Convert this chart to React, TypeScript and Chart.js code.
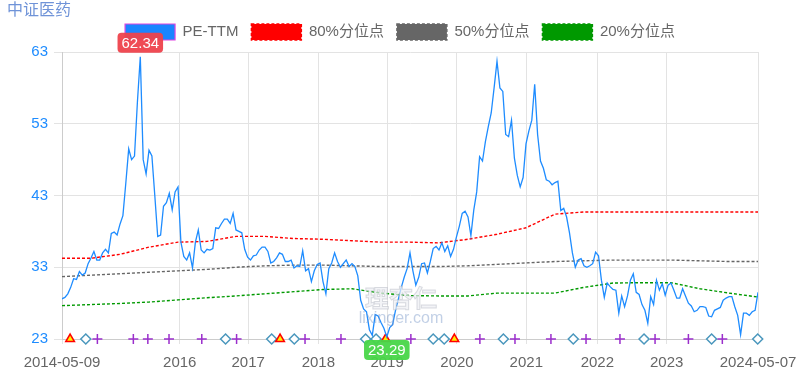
import React, { useEffect, useRef } from 'react';
import { Chart, registerables } from 'chart.js';

Chart.register(...registerables);

const chartTitle = '中证医药';
const seriesNames = ['PE-TTM', '80%分位点', '50%分位点', '20%分位点'];

// PE-TTM, semi-monthly samples from 2014-05-09 to 2024-05-07
const peValues = [
  28.6, 28.8, 29.3, 30.2, 31.4, 31.3, 32.4, 31.9, 32.2, 33.5,
  34.3, 35.2, 34.0, 34.0, 35.0, 35.5, 35.0, 37.7, 37.9, 37.5,
  39.0, 40.2, 44.7, 49.5, 48.0, 48.5, 56.0, 62.34, 48.0, 46.0,
  49.3, 48.5, 43.0, 37.3, 37.5, 41.5, 42.0, 43.3, 41.0, 43.5,
  44.2, 36.5, 34.5, 34.0, 35.0, 32.9, 36.5, 38.2,
  35.4, 35.0, 35.5, 35.4, 35.6, 38.5, 38.4, 39.1, 39.7, 39.7,
  39.1, 40.5, 38.2, 38.0, 37.8, 35.5, 34.4, 34.0, 34.6, 34.7,
  35.4, 35.8, 35.8, 35.2, 33.6, 33.8, 34.3, 35.0, 34.8, 33.8,
  33.8, 34.0, 32.9, 33.2, 33.1, 35.3, 32.5, 32.8, 31.0, 32.5,
  33.4, 33.6, 31.0, 29.3, 32.8, 33.6, 35.0,
  33.8, 33.0, 33.5, 34.0, 33.1, 33.5, 33.1, 31.8, 28.4, 27.2,
  26.8, 24.3, 23.5, 26.4, 26.2, 25.3, 24.5, 23.29, 24.6, 25.0,
  27.0, 28.6, 30.2, 31.6, 32.8, 35.0, 32.5, 30.5, 31.6, 33.5,
  33.6, 32.2, 33.8, 35.6, 35.9, 35.4, 36.4, 35.2, 36.0, 34.5,
  35.5, 37.2, 38.7, 40.5, 40.8, 40.0, 37.4,
  41.0, 43.5, 48.4, 47.8, 50.5, 52.6, 54.5, 58.0, 61.7, 58.0,
  57.5, 51.5, 51.2, 53.5, 48.2, 45.8, 44.2, 45.5, 50.2, 52.0,
  53.5, 58.5, 51.5, 47.8, 46.8, 45.2, 45.0, 44.5, 44.8, 45.0,
  40.9, 41.2, 40.0, 37.8, 35.0, 33.0, 34.0, 34.2, 33.2, 33.0,
  33.2, 33.5, 35.1, 34.6, 31.2, 28.8, 30.8,
  30.3, 29.9, 29.8, 26.6, 29.0, 27.5, 29.0, 31.2, 32.1, 29.5,
  29.2, 27.8, 27.0, 25.2, 28.9, 27.8, 31.2, 29.8, 30.7, 29.1,
  30.5, 30.8, 29.8, 28.7, 28.7, 30.0, 29.0, 28.0, 27.6, 26.8,
  27.0, 27.5, 27.5, 27.4, 26.2, 26.1, 27.0, 27.2, 27.4, 28.4,
  28.7, 28.9, 28.9, 27.5, 26.3, 23.6, 26.6, 26.6, 26.3, 26.8,
  27.0, 29.5,
];

// percentile lines, one value every 10 samples
const percentileStep = 10;
const p80Values = [34.25, 34.25, 34.8, 35.8, 36.5, 36.6, 37.3, 37.3, 37.0, 36.9, 36.7, 36.5, 36.5, 36.4, 36.9, 37.6, 38.5, 40.4, 40.7, 40.7, 40.7, 40.7, 40.7, 40.7, 40.7];
const p50Values = [31.7, 31.9, 32.1, 32.3, 32.5, 32.7, 33.0, 33.2, 33.3, 33.3, 33.2, 33.1, 33.1, 33.1, 33.2, 33.4, 33.6, 33.8, 33.9, 34.0, 34.0, 34.0, 33.9, 33.8, 33.8];
const p20Values = [27.65, 27.8, 27.95, 28.15, 28.45, 28.75, 29.0, 29.3, 29.6, 29.9, 30.0, 29.4, 29.05, 29.0, 29.0, 29.4, 29.4, 29.4, 30.2, 30.8, 30.85, 30.85, 30.0, 29.4, 28.85];

// x-axis ticks (sample index of the date) and labels
const tickIndex = [0, 40.6, 64.2, 88.4, 112.1, 136.2, 160.1, 184.6, 208.5, 240];
const tickLabels = ['2014-05-09', '2016', '2017', '2018', '2019', '2020', '2021', '2022', '2023', '2024-05-07'];

// event markers (sample index)
const triangleIdx = [2.8, 75.2, 111.6, 135.3];
const diamondIdx = [8.2, 56.4, 72.3, 80.1, 104.7, 108.3, 128.0, 131.8, 152.2, 176.3, 200.7, 224.0, 239.9];
const plusIdx = [12.2, 24.6, 29.6, 36.9, 48.2, 60.2, 83.8, 96.2, 120.3, 144.1, 156.2, 168.6, 180.7, 192.4, 204.5, 216.0, 227.7];

const yMin = 23;
const yMax = 63;
const yStep = 10;

const FONT = "'Liberation Sans', Arial, 'Noto Sans CJK SC', sans-serif";

function roundRect(ctx: CanvasRenderingContext2D, x: number, y: number, w: number, h: number, r: number) {
  ctx.beginPath();
  ctx.moveTo(x + r, y);
  ctx.lineTo(x + w - r, y);
  ctx.quadraticCurveTo(x + w, y, x + w, y + r);
  ctx.lineTo(x + w, y + h - r);
  ctx.quadraticCurveTo(x + w, y + h, x + w - r, y + h);
  ctx.lineTo(x + r, y + h);
  ctx.quadraticCurveTo(x, y + h, x, y + h - r);
  ctx.lineTo(x, y + r);
  ctx.quadraticCurveTo(x, y, x + r, y);
  ctx.closePath();
}

const extremesPlugin = {
  id: 'extremes',
  afterDatasetsDraw(chart: any) {
    const ctx: CanvasRenderingContext2D = chart.ctx;
    const meta = chart.getDatasetMeta(0);
    let maxI = 0;
    let minI = 0;
    peValues.forEach((v, i) => {
      if (v > peValues[maxI]) maxI = i;
      if (v < peValues[minI]) minI = i;
    });
    const draw = (i: number, above: boolean, color: string) => {
      const p = meta.data[i];
      const text = peValues[i].toFixed(2);
      ctx.save();
      ctx.font = `15px ${FONT}`;
      const w = ctx.measureText(text).width + 8;
      const h = 20;
      const x = p.x - w / 2;
      const y = above ? p.y - 4 - h : p.y + 3;
      ctx.fillStyle = color;
      roundRect(ctx, x, y, w, h, 4);
      ctx.fill();
      ctx.fillStyle = '#ffffff';
      ctx.textAlign = 'center';
      ctx.textBaseline = 'middle';
      ctx.fillText(text, p.x, y + h / 2 + 1);
      ctx.restore();
    };
    draw(maxI, true, 'rgba(238,66,76,0.95)');
    draw(minI, false, 'rgba(72,214,72,0.95)');
  },
};

const decorPlugin = {
  id: 'decor',
  beforeLayout(chart: any) {
    const lg: any = chart.legend;
    if (lg && !lg._padPatched) {
      const f = lg.fit.bind(lg);
      lg.fit = function () {
        f();
        this.height += 2;
      };
      lg._padPatched = true;
    }
  },
  afterDatasetsDraw(chart: any) {
    const ctx: CanvasRenderingContext2D = chart.ctx;
    ctx.save();
    ctx.textAlign = 'center';
    ctx.textBaseline = 'middle';
    ctx.font = `bold 24px 'Noto Sans CJK SC', sans-serif`;
    ctx.fillStyle = 'rgba(238,240,244,0.7)';
    ctx.strokeStyle = 'rgba(175,180,190,0.45)';
    ctx.lineWidth = 1;
    ctx.fillText('理杏仁', 401, 298);
    ctx.strokeText('理杏仁', 401, 298);
    ctx.font = `16px ${FONT}`;
    ctx.fillStyle = 'rgba(120,150,200,0.45)';
    ctx.fillText('lixinger.com', 401, 319);
    ctx.restore();
  },
  afterDraw(chart: any) {
    const ctx: CanvasRenderingContext2D = chart.ctx;
    ctx.save();
    ctx.font = `16px ${FONT}`;
    ctx.fillStyle = '#6f93d8';
    ctx.textAlign = 'left';
    ctx.textBaseline = 'middle';
    ctx.fillText(chartTitle, 7, 11);
    ctx.restore();
  },
};

export default function App() {
  const canvasRef = useRef<HTMLCanvasElement | null>(null);

  useEffect(() => {
    document.body.style.margin = '0';
    const canvas = canvasRef.current;
    if (!canvas) return;
    const pct = (vals: number[]) => vals.map((v, k) => ({ x: k * percentileStep, y: v }));
    const markers = (idx: number[]) => idx.map((x) => ({ x, y: yMin }));

    const chart = new Chart(canvas, {
      type: 'line',
      data: {
        datasets: [
          {
            label: seriesNames[0],
            data: peValues.map((v, i) => ({ x: i, y: v })),
            borderColor: '#1e8cff',
            backgroundColor: '#1a85ff',
            borderWidth: 1.3,
            pointRadius: 0,
            tension: 0,
          },
          {
            label: seriesNames[1],
            data: pct(p80Values),
            borderColor: '#ff0000',
            backgroundColor: '#ff0000',
            borderWidth: 1.4,
            borderDash: [3, 2],
            pointRadius: 0,
          },
          {
            label: seriesNames[2],
            data: pct(p50Values),
            borderColor: '#666666',
            backgroundColor: '#666666',
            borderWidth: 1.4,
            borderDash: [3, 2],
            pointRadius: 0,
          },
          {
            label: seriesNames[3],
            data: pct(p20Values),
            borderColor: '#009900',
            backgroundColor: '#009900',
            borderWidth: 1.4,
            borderDash: [3, 2],
            pointRadius: 0,
          },
          {
            label: 'triangle',
            data: markers(triangleIdx),
            showLine: false,
            pointStyle: 'triangle',
            pointRadius: 5,
            backgroundColor: '#ffee00',
            borderColor: '#ff0000',
            borderWidth: 1.5,
            clip: false as any,
          },
          {
            label: 'diamond',
            data: markers(diamondIdx),
            showLine: false,
            pointStyle: 'rectRot',
            pointRadius: 5,
            backgroundColor: '#ffffff',
            borderColor: '#4a97bd',
            borderWidth: 1.5,
            clip: false as any,
          },
          {
            label: 'plus',
            data: markers(plusIdx),
            showLine: false,
            pointStyle: 'cross',
            pointRadius: 5,
            backgroundColor: '#9b2fcc',
            borderColor: '#9b2fcc',
            borderWidth: 1.5,
            clip: false as any,
          },
        ],
      },
      options: {
        responsive: false,
        animation: false,
        devicePixelRatio: 1,
        layout: { padding: { top: 11, left: 0, right: 0, bottom: 0 } },
        plugins: {
          title: { display: false },
          tooltip: { enabled: false },
          legend: {
            display: true,
            position: 'top',
            labels: {
              boxWidth: 50,
              boxHeight: 16,
              padding: 13,
              color: '#666666',
              font: { size: 15, family: FONT },
              filter: (item: any) => item.datasetIndex < 4,
              generateLabels(chart: any) {
                const items = (Chart.defaults.plugins.legend.labels as any).generateLabels(chart);
                return items.map((it: any) => {
                  if (it.datasetIndex === 0) {
                    it.fillStyle = '#1a85ff';
                    it.strokeStyle = '#e046e0';
                    it.lineWidth = 1.2;
                  }
                  return it;
                });
              },
            },
          },
        },
        scales: {
          x: {
            type: 'linear',
            min: 0,
            max: peValues.length - 1,
            afterBuildTicks(scale: any) {
              scale.ticks = tickIndex.map((v) => ({ value: v }));
            },
            afterFit(scale: any) {
              scale.height = 36;
              scale.paddingRight = 42;
            },
            ticks: {
              autoSkip: false,
              maxRotation: 0,
              minRotation: 0,
              padding: 10,
              color: '#666666',
              font: { size: 15, family: FONT },
              callback: (_v: any, i: number) => tickLabels[i],
            },
            grid: { color: '#e3e3e3', tickLength: 5 },
            border: { color: '#cccccc' },
          },
          y: {
            type: 'linear',
            min: yMin,
            max: yMax,
            afterFit(scale: any) {
              scale.width = 62;
            },
            ticks: {
              stepSize: yStep,
              padding: 6,
              color: '#1e8cff',
              font: { size: 15, family: FONT },
            },
            grid: { color: '#e3e3e3', tickLength: 8 },
            border: { color: '#cccccc' },
          },
        },
      },
      plugins: [extremesPlugin, decorPlugin],
    } as any);

    return () => chart.destroy();
  }, []);

  return (
    <div style={{ width: 800, height: 375 }}>
      <canvas ref={canvasRef} width={800} height={375} style={{ display: 'block' }} />
    </div>
  );
}
